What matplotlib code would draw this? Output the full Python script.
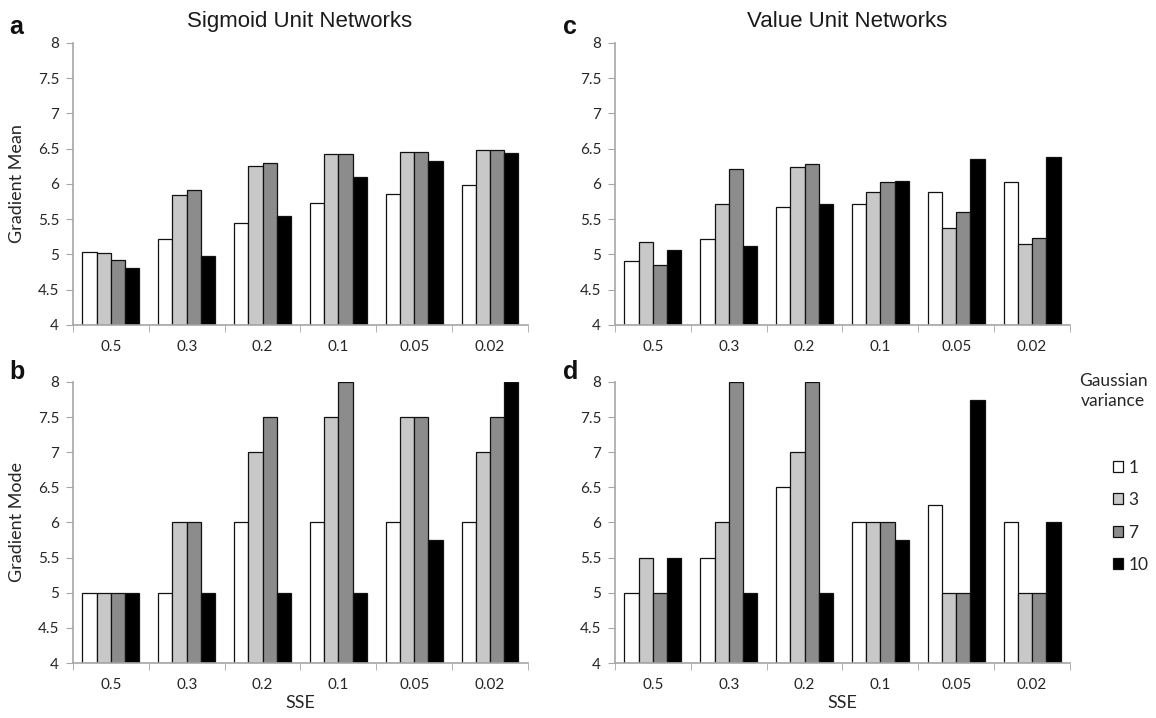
import numpy as np
import matplotlib
matplotlib.use("Agg")
import matplotlib.pyplot as plt
from matplotlib.patches import Patch

plt.rcParams['font.family'] = ['Lato', 'DejaVu Sans']

sse = ["0.5", "0.3", "0.2", "0.1", "0.05", "0.02"]
variances = ["1", "3", "7", "10"]
colors = ["#ffffff", "#c8c8c8", "#8c8c8c", "#000000"]

# gradient mean, sigmoid networks (one list per variance)
sig_mean_1 = [5.04, 5.22, 5.44, 5.73, 5.86, 5.98]
sig_mean_3 = [5.02, 5.85, 6.25, 6.42, 6.45, 6.48]
sig_mean_7 = [4.92, 5.91, 6.30, 6.42, 6.45, 6.48]
sig_mean_10 = [4.81, 4.98, 5.54, 6.10, 6.33, 6.44]

# gradient mode, sigmoid networks
sig_mode_1 = [5, 5, 6, 6, 6, 6]
sig_mode_3 = [5, 6, 7, 7.5, 7.5, 7]
sig_mode_7 = [5, 6, 7.5, 8, 7.5, 7.5]
sig_mode_10 = [5, 5, 5, 5, 5.75, 8]

# gradient mean, value unit networks
val_mean_1 = [4.91, 5.22, 5.68, 5.72, 5.88, 6.03]
val_mean_3 = [5.17, 5.71, 6.24, 5.89, 5.37, 5.15]
val_mean_7 = [4.85, 6.21, 6.29, 6.03, 5.60, 5.24]
val_mean_10 = [5.06, 5.12, 5.71, 6.04, 6.35, 6.38]

# gradient mode, value unit networks
val_mode_1 = [5, 5.5, 6.5, 6, 6.25, 6]
val_mode_3 = [5.5, 6, 7, 6, 5, 5]
val_mode_7 = [5, 8, 8, 6, 5, 5]
val_mode_10 = [5.5, 5, 5, 5.75, 7.75, 6]

spine_col = "#a6a6a6"
text_col = "#262626"


def bar_panel(ax, series, ylabel=None, xlabel=None):
    x = np.arange(len(sse))
    w = 0.1875
    for k, vals in enumerate(series):
        ax.bar(x + (k - 1.5) * w, np.array(vals) - 4, width=w, bottom=4,
               color=colors[k], edgecolor="#111111", linewidth=0.9, zorder=2)
    ax.set_xlim(-0.5, len(sse) - 0.5)
    ax.set_ylim(4, 8)
    ax.set_yticks(np.arange(4, 8.01, 0.5))
    ax.set_yticklabels(["4", "4.5", "5", "5.5", "6", "6.5", "7", "7.5", "8"])
    ax.set_xticks(x)
    ax.set_xticklabels(sse)
    ax.set_xticks(np.arange(-0.5, len(sse)), minor=True)
    ax.tick_params(axis="x", which="major", length=0, pad=11,
                   labelsize=11, labelcolor=text_col)
    ax.tick_params(axis="x", which="minor", length=5, color=spine_col,
                   direction="out")
    ax.tick_params(axis="y", length=5, color=spine_col, labelsize=11,
                   labelcolor=text_col, pad=5)
    for side in ("top", "right"):
        ax.spines[side].set_visible(False)
    for side in ("left", "bottom"):
        ax.spines[side].set_color(spine_col)
        ax.spines[side].set_linewidth(1.2)
    if ylabel:
        ax.set_ylabel(ylabel, fontsize=13, color=text_col, labelpad=9)
    if xlabel:
        ax.set_xlabel(xlabel, fontsize=13, color=text_col, labelpad=2)


fig = plt.figure(figsize=(11.56, 7.18), dpi=100)
ax_a = fig.add_axes([0.0631, 0.5474, 0.3936, 0.3928])
ax_b = fig.add_axes([0.0631, 0.0766, 0.3936, 0.3914])
ax_c = fig.add_axes([0.532, 0.5474, 0.3936, 0.3928])
ax_d = fig.add_axes([0.532, 0.0766, 0.3936, 0.3914])

bar_panel(ax_a, [sig_mean_1, sig_mean_3, sig_mean_7, sig_mean_10],
          ylabel="Gradient Mean")
bar_panel(ax_b, [sig_mode_1, sig_mode_3, sig_mode_7, sig_mode_10],
          ylabel="Gradient Mode", xlabel="SSE")
bar_panel(ax_c, [val_mean_1, val_mean_3, val_mean_7, val_mean_10])
bar_panel(ax_d, [val_mode_1, val_mode_3, val_mode_7, val_mode_10],
          xlabel="SSE")

title_font = ['Liberation Sans', 'DejaVu Sans']
fig.text(0.259, 0.97, "Sigmoid Unit Networks", ha="center", va="center",
         fontsize=16, color="#1a1a1a", family=title_font)
fig.text(0.733, 0.97, "Value Unit Networks", ha="center", va="center",
         fontsize=16, color="#1a1a1a", family=title_font)

for lab, (px, py) in zip("abcd", [(0.008, 0.962), (0.008, 0.482),
                                  (0.487, 0.962), (0.487, 0.482)]):
    fig.text(px, py, lab, fontsize=18, fontweight="bold", ha="left",
             va="center", color="#111111", family=title_font)

fig.text(0.963, 0.455, "Gaussian\nvariance", ha="center", va="center",
         fontsize=12.5, color=text_col, linespacing=1.3)
handles = [Patch(facecolor=c, edgecolor="#111111", linewidth=0.9)
           for c in colors]
fig.legend(handles, variances, loc="upper left",
           bbox_to_anchor=(0.955, 0.372), frameon=False, fontsize=12.5,
           handlelength=0.6, handleheight=0.6, handletextpad=0.3,
           labelspacing=0.95, borderpad=0, labelcolor=text_col)

fig.savefig("out.png", dpi=100)
